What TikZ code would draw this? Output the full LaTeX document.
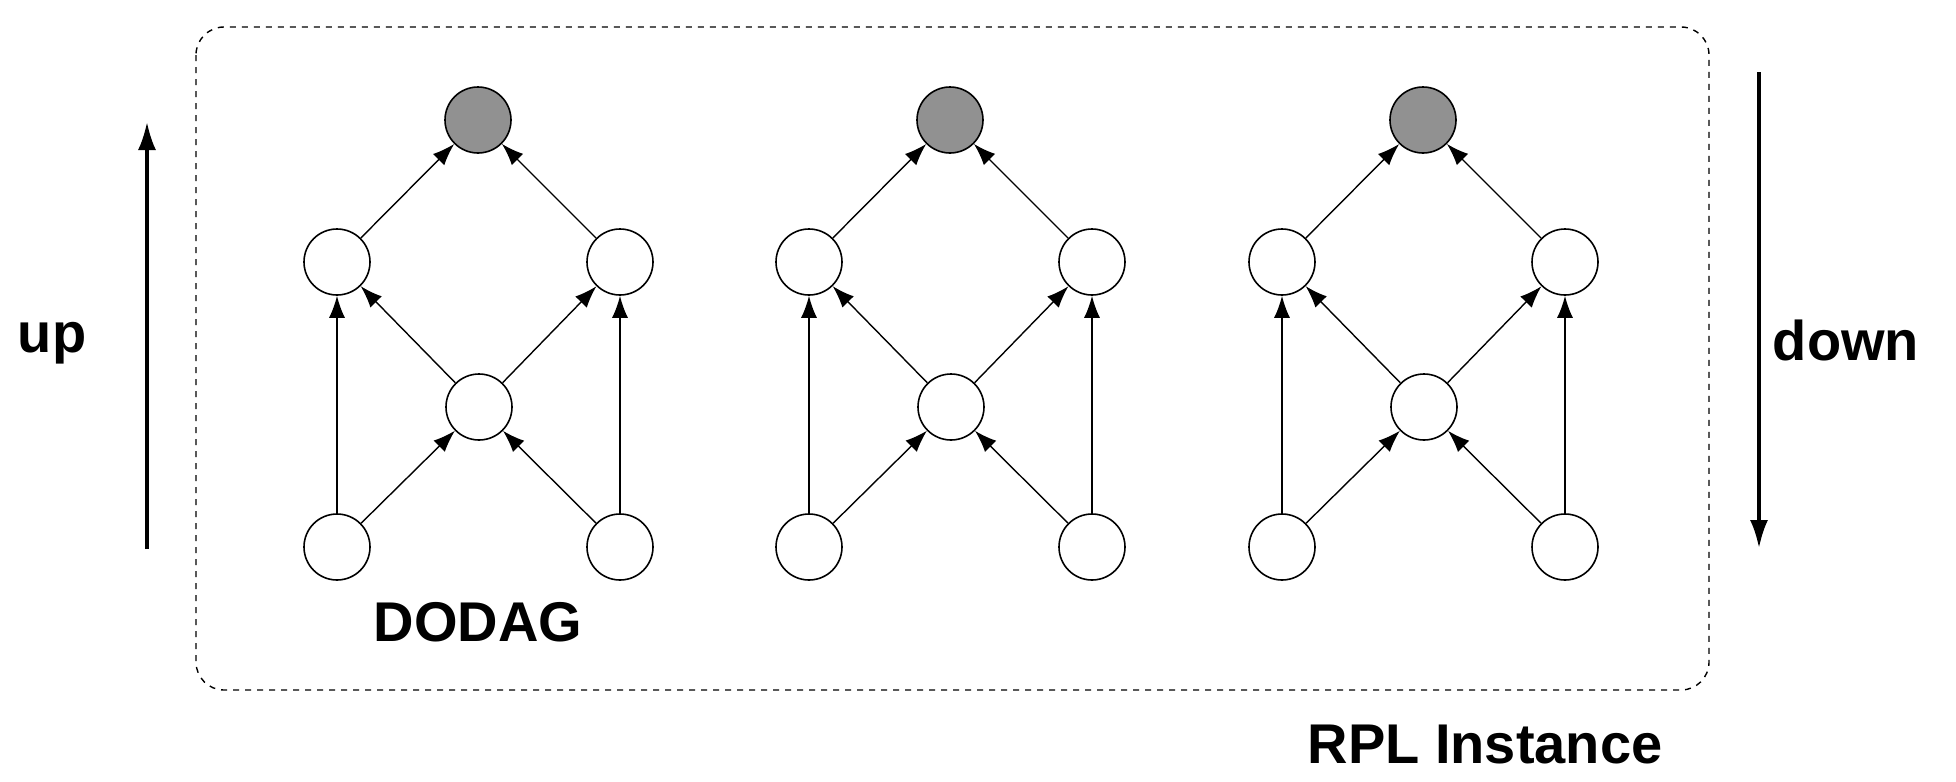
\documentclass[tikz,border=0pt]{standalone}
\usepackage{fontspec}
\setmainfont{Liberation Sans}
\usetikzlibrary{arrows.meta}
\begin{document}
\begin{tikzpicture}[x=0.5pt,y=-0.5pt,
  nd/.style={circle,draw,line width=0.8pt,minimum size=33pt,inner sep=0pt,fill=white},
  root/.style={nd,fill=gray!85!black!75},
  ed/.style={-{Latex[length=11pt,width=8pt]},line width=0.7pt},
  big/.style={-{Latex[length=14pt,width=9pt]},line width=1.6pt},
  lab/.style={font=\fontsize{28}{32}\selectfont\bfseries}]
\useasboundingbox (0,0) rectangle (1956,782);
\draw[dashed,rounded corners=14pt,line width=0.7pt] (196,27) rectangle (1709,690);
\foreach \g/\cx in {a/478,b/950,c/1423}{
  \node[root] (\g r) at (\cx,120) {};
  \node[nd] (\g l) at (\cx-141,262) {};
  \node[nd] (\g R) at (\cx+142,262) {};
  \node[nd] (\g m) at (\cx+1,407) {};
  \node[nd] (\g bl) at (\cx-141,547) {};
  \node[nd] (\g br) at (\cx+142,547) {};
  \draw[ed] (\g l) -- (\g r);
  \draw[ed] (\g R) -- (\g r);
  \draw[ed] (\g m) -- (\g l);
  \draw[ed] (\g m) -- (\g R);
  \draw[ed] (\g bl) -- (\g l);
  \draw[ed] (\g br) -- (\g R);
  \draw[ed] (\g bl) -- (\g m);
  \draw[ed] (\g br) -- (\g m);
}
\coordinate (u1) at (147,549); \coordinate (u2) at (147,122);
\coordinate (d1) at (1759,72); \coordinate (d2) at (1759,548);
\draw[big] (u1) -- (u2);
\draw[big] (d1) -- (d2);
\node[lab] (up) at (52,343) {up};
\node[lab] (down) at (1846,340) {down};
\node[lab] (dodag) at (478,622) {DODAG};
\node[lab] (rpl) at (1485,745) {RPL Instance};
\end{tikzpicture}
\end{document}
